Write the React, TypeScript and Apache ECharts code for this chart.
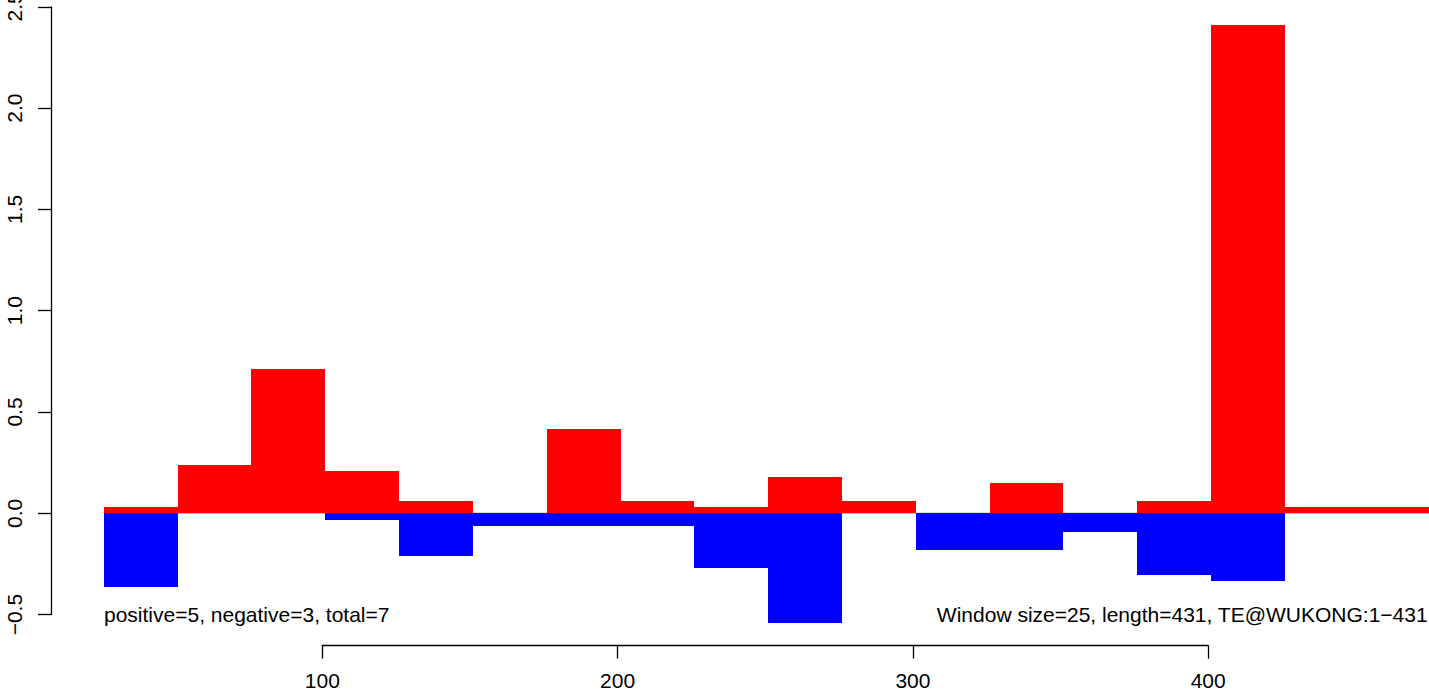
import React, { useEffect, useRef } from "react";
import * as echarts from "echarts";

// Window start positions (window size 25)
const windowStarts = [26, 51, 76, 101, 126, 151, 176, 201, 226, 251, 276, 301, 326, 351, 376, 401, 426, 451];
const windowSize = 25;
// Positive (red) values per window
const positiveValues = [0.031, 0.238, 0.712, 0.209, 0.061, 0, 0.416, 0.061, 0.031, 0.179, 0.061, 0, 0.150, 0, 0.061, 2.410, 0.031, 0.031];
// Negative (blue) values per window
const negativeValues = [-0.363, 0, 0, -0.033, -0.209, -0.062, -0.062, -0.062, -0.268, -0.540, 0, -0.181, -0.181, -0.092, -0.303, -0.334, 0, 0];
const xTicks = [100, 200, 300, 400];
const yTicks = [-0.5, 0, 0.5, 1, 1.5, 2, 2.5];
const leftNote = "positive=5, negative=3, total=7";
const rightNote = "Window size=25, length=431, TE@WUKONG:1\u2212431";

const FONT = "Liberation Sans, Arial, Helvetica, sans-serif";

function fmt(v: number) {
  return v < 0 ? "\u2212" + Math.abs(v).toFixed(1) : v.toFixed(1);
}

export default function App() {
  const ref = useRef<HTMLDivElement>(null);
  useEffect(() => {
    if (!ref.current) return;
    const chart = echarts.init(ref.current, undefined, { renderer: "svg" });
    const mk = (vals: number[]) => windowStarts.map((s, i) => [s, s + windowSize, vals[i]]);
    const renderItem = (color: string) => (params: any, api: any) => {
      const v = api.value(2);
      if (!v) return null;
      const p0 = api.coord([api.value(0), 0]);
      const p1 = api.coord([api.value(1), v]);
      const x0 = Math.round(p0[0]);
      const x1 = Math.round(p1[0]);
      const y0 = Math.round(Math.min(p0[1], p1[1]));
      const y1 = Math.round(Math.max(p0[1], p1[1]));
      return {
        type: "rect",
        shape: { x: x0, y: y0, width: x1 - x0, height: y1 - y0 },
        style: { fill: color },
      };
    };
    const option: any = {
      animation: false,
      grid: [
        { left: 51, top: 6.8, width: 1378, height: 607.8, containLabel: false, outerBoundsMode: "none" },
        { left: 322.3, top: 600, width: 885.9, height: 45.7, containLabel: false, outerBoundsMode: "none" },
      ],
      xAxis: [
        { gridIndex: 0, type: "value", min: 8.13, max: 474.8, show: false },
        {
          gridIndex: 1,
          type: "value",
          min: 100,
          max: 400,
          interval: 100,
          position: "bottom",
          axisLine: { show: true, lineStyle: { color: "#000", width: 1.3 } },
          axisTick: { show: true, length: 13, lineStyle: { color: "#000", width: 1.3 } },
          axisLabel: { margin: 24, color: "#000", fontSize: 21, fontFamily: FONT, formatter: (v: number) => String(v) },
          splitLine: { show: false },
        },
      ],
      yAxis: [
        {
          gridIndex: 0,
          type: "value",
          min: -0.5,
          max: 2.5,
          interval: 0.5,
          axisLine: { show: true, lineStyle: { color: "#000", width: 1.3 } },
          axisTick: { show: true, length: 13, lineStyle: { color: "#000", width: 1.3 } },
          axisLabel: { rotate: 90, margin: 26, color: "#000", fontSize: 21, fontFamily: FONT, formatter: fmt },
          splitLine: { show: false },
        },
        { gridIndex: 1, type: "value", show: false, min: 0, max: 1 },
      ],
      series: [
        {
          type: "line",
          xAxisIndex: 0,
          yAxisIndex: 0,
          data: [[windowStarts[0], 0], [windowStarts[windowStarts.length - 1] + windowSize, 0]],
          symbol: "none",
          lineStyle: { color: "#bebebe", width: 1.5 },
          z: 1,
          silent: true,
        },
        {
          type: "custom",
          xAxisIndex: 0,
          yAxisIndex: 0,
          data: mk(positiveValues),
          renderItem: renderItem("#ff0000"),
          z: 2,
        },
        {
          type: "custom",
          xAxisIndex: 0,
          yAxisIndex: 0,
          data: mk(negativeValues),
          renderItem: renderItem("#0000ff"),
          z: 2,
        },
      ],
      graphic: [
        {
          type: "text",
          left: 104,
          top: 604,
          style: { text: leftNote, fill: "#000", font: `21px ${FONT}` },
          z: 10,
        },
        {
          type: "text",
          right: 1,
          top: 604,
          style: { text: rightNote, fill: "#000", font: `21px ${FONT}` },
          z: 10,
        },
      ],
    };
    chart.setOption(option);
    return () => chart.dispose();
  }, []);
  return (
    <div
      ref={ref}
      style={{ position: "absolute", left: 0, top: 0, width: 1429, height: 694, background: "#fff" }}
    />
  );
}
